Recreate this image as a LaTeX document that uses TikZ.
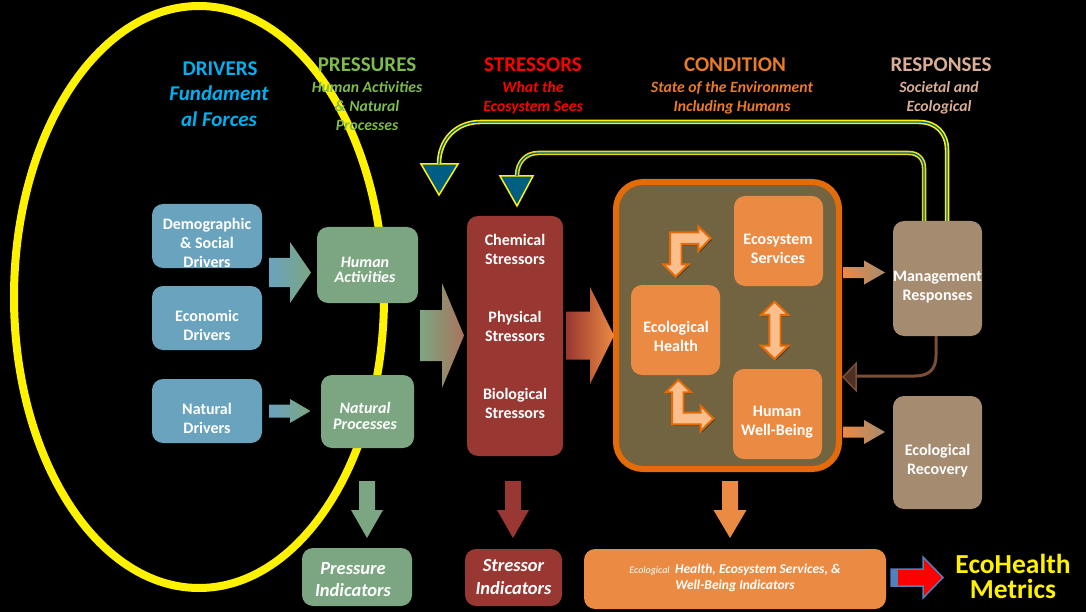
\documentclass[tikz,border=0pt]{standalone}
\usepackage{fontspec}
\setmainfont{Carlito}
\usetikzlibrary{calc,shadows}
\definecolor{cblue}{HTML}{6AA3BE}
\definecolor{cgreen}{HTML}{7CA682}
\definecolor{cred}{HTML}{993732}
\definecolor{corange}{HTML}{EB8A42}
\definecolor{ctan}{HTML}{A58B6F}
\definecolor{cdeep}{HTML}{E36C09}
\definecolor{colive}{HTML}{736441}
\definecolor{cpale}{HTML}{FBBF8E}
\definecolor{cteal}{HTML}{005E85}
\definecolor{hblue}{HTML}{00B0F0}
\definecolor{hgreen}{HTML}{7FBA4C}
\definecolor{horange}{HTML}{E97B26}
\definecolor{hrose}{HTML}{D9AE94}
\definecolor{cmix}{HTML}{A9735C}
\definecolor{cbrown}{HTML}{7B4E38}
\definecolor{cdbrown}{HTML}{4D3022}
\definecolor{cmblue}{HTML}{4F81BD}
\tikzset{
  boxn/.style={rounded corners=11pt,inner sep=0pt},
  lbl/.style={text=white,align=center,inner sep=0pt,font=\fontsize{16}{19}\selectfont\bfseries},
  ital/.style={lbl,font=\fontsize{16}{15.5}\selectfont\bfseries\itshape},
  head/.style={align=center,inner sep=0pt,font=\fontsize{21}{24}\selectfont\bfseries},
  sub/.style={align=center,inner sep=0pt,font=\fontsize{15.7}{19}\selectfont\bfseries\itshape},
  bentar/.style={fill=cpale,draw=cdeep,line width=2pt,line join=miter,
    drop shadow={shadow xshift=1.5pt,shadow yshift=-1.5pt,opacity=.35,fill=black}},
  loopline/.style={draw=yellow,double=cteal,line width=1.6pt,double distance=1.3pt,rounded corners=0pt},
  tri/.style={fill=cteal,draw=yellow,line width=1.5pt,line join=miter}
}
% \boxt{name}{fill}{x0}{y0}{x1}{y1}
\newcommand{\boxt}[6]{%
  \pgfmathsetmacro{\bw}{#5-#3}\pgfmathsetmacro{\bh}{#6-#4}%
  \pgfmathsetmacro{\bx}{(#3+#5)/2}\pgfmathsetmacro{\by}{(#4+#6)/2}%
  \node[boxn,fill=#2,minimum width=\bw pt,minimum height=\bh pt] (#1) at (\bx,\by) {};}
% \harr{name}{x}{yc}{len}{headstart}{shafthalf}{headhalf}{style}
\newcommand{\harr}[8]{%
  \coordinate (#1) at (#2,#3);
  \path[#8,shift={(#1)}] (0,-#6) -- (#5,-#6) -- (#5,-#7) -- (#4,0) -- (#5,#7) -- (#5,#6) -- (0,#6) -- cycle;}
% \darr{name}{xc}{y}{len}{headstart}{shafthalf}{headhalf}{fill}
\newcommand{\darr}[8]{%
  \coordinate (#1) at (#2,#3);
  \path[fill=#8,shift={(#1)}] (-#6,0) -- (-#6,#5) -- (-#7,#5) -- (0,#4) -- (#7,#5) -- (#6,#5) -- (#6,0) -- cycle;}
\begin{document}
\begin{tikzpicture}[x=1pt,y=-1pt]
\useasboundingbox[fill=black] (0,0) rectangle (1086,612);
% big ellipse
\draw[yellow,line width=8pt] (199,297) ellipse [x radius=185,y radius=291];
% headers
\node[head,text=hblue] (hdrv) at (220,69) {DRIVERS};
\node[align=center,inner sep=0pt,text=hblue,font=\fontsize{21}{26}\selectfont\bfseries\itshape] (sdrv) at (219,106) {Fundament\\al Forces};
\node[head,text=hgreen] (hprs) at (367,65) {PRESSURES};
\node[sub,text=hgreen] (sprs) at (367,106) {Human Activities\\\& Natural\\Processes};
\node[head,text=red] (hstr) at (533,65) {STRESSORS};
\node[sub,text=red] (sstr) at (533,98) {What the\\Ecosystem Sees};
\node[head,text=horange] (hcon) at (735,65) {CONDITION};
\node[sub,text=horange] (scon) at (732,98) {State of the Environment\\Including Humans};
\node[head,text=hrose] (hres) at (941,65) {RESPONSES};
\node[sub,text=hrose] (sres) at (939,98) {Societal and\\Ecological};
% driver boxes
\boxt{dem}{cblue}{152}{204}{262}{268}
\boxt{eco}{cblue}{152}{286}{262}{350}
\boxt{nat}{cblue}{152}{379}{262}{443}
\node[lbl] (demt) at (207,243) {Demographic\\\& Social\\Drivers};
\node[lbl] (ecot) at (207,325) {Economic\\Drivers};
\node[lbl] (natt) at (207,418.5) {Natural\\Drivers};
% pressure boxes
\boxt{hum}{cgreen}{317}{227}{418}{303}
\boxt{npr}{cgreen}{321}{375}{414}{448}
\node[ital] (humt) at (365,270) {Human\\Activities};
\node[ital] (nprt) at (365,416) {Natural\\Processes};
% stressor box
\boxt{str}{cred}{467}{216}{563}{456}
\node[lbl] (strt1) at (515,249.5) {Chemical\\Stressors};
\node[lbl] (strt2) at (515,326.5) {Physical\\Stressors};
\node[lbl] (strt3) at (515,403.5) {Biological\\Stressors};
% condition
\draw[fill=colive,draw=cdeep,line width=6pt,rounded corners=27pt] (616,182) rectangle (839,469);
\coordinate (cond) at (727.5,325.5);
\boxt{ess}{corange}{734}{196}{823}{286}
\boxt{ehl}{corange}{631}{285}{720}{375}
\boxt{hwb}{corange}{733}{369}{822}{459}
\node[lbl] (esst) at (778,248.5) {Ecosystem\\Services};
\node[lbl] (ehlt) at (676,336.5) {Ecological\\Health};
\node[lbl] (hwbt) at (777,422) {Human\\Well-Being};
\begin{scope}[shift={(610,175)},x=0.3333pt,y=-0.3333pt]
\path[bentar] (197,305) -- (160,268) -- (180,268) -- (180,172) -- (265,172) -- (265,155) -- (302,190) -- (265,228) -- (265,207) -- (215,207) -- (215,268) -- (235,268) -- cycle;
\path[bentar] (205,615) -- (243,652) -- (221,652) -- (221,713) -- (272,713) -- (272,693) -- (310,731) -- (272,768) -- (272,748) -- (186,748) -- (186,652) -- (168,652) -- cycle;
\path[bentar] (494,380) -- (535,420) -- (512,420) -- (512,512) -- (535,512) -- (494,552) -- (453,512) -- (478,512) -- (478,420) -- (453,420) -- cycle;
\end{scope}
% response boxes
\boxt{mgt}{ctan}{893}{221}{982}{336}
\boxt{rec}{ctan}{893}{396}{982}{509}
\node[lbl] (mgtt) at (937.5,287) {Management\\Responses};
\node[lbl] (rect) at (937.5,460.5) {Ecological\\Recovery};
% block arrows
\harr{a1}{269}{272.5}{42}{21}{14.5}{30.5}{left color=cblue,right color=cgreen}
\harr{a2}{269}{411}{41.5}{21}{6.5}{12}{left color=cblue,right color=cgreen}
\harr{a3}{420}{335.5}{44}{22}{25.5}{52.5}{left color=cgreen,right color=cmix}
\harr{a4}{566}{335.5}{48}{24}{24}{48.5}{left color=cred,right color=corange}
\harr{a5}{843}{272.5}{42}{21}{5.5}{12}{left color=corange,right color=ctan}
\harr{a6}{843}{432}{42}{21}{5.5}{12}{left color=corange,right color=ctan}
% feedback connectors
\coordinate (tipa) at (439,195);
\coordinate (tipb) at (517,206);
\path[tri] (421,164) -- (458,164) -- (tipa) -- cycle; \coordinate (basea) at (439,164);
\path[tri] (500,176) -- (533,176) -- (tipb) -- cycle; \coordinate (baseb) at (517,176);
\coordinate (mga) at ($(mgt.north)+(9.5,0)$);
\coordinate (mgb) at ($(mgt.north)+(-13.5,0)$);
\draw[loopline] (mga) -- (947,150) .. controls (947,133) and (936,122) .. (919,122) -- (480,122) .. controls (456,122) and (439,140) .. (basea);
\draw[loopline,draw=yellow!90!black] (mgb) -- (924,168) .. controls (924,159) and (918,153) .. (909,153) -- (538,153) .. controls (526,153) and (517,162) .. (baseb);
% management feedback
\coordinate (tipc) at (843,377);
\coordinate (mgs) at ($(mgt.south)+(-1.5,0)$);
\draw[draw=cbrown,line width=3pt] (mgs) -- (936,356) .. controls (936,369) and (929,376) .. (915,376) -- (855,376);
\path[fill=cdbrown,draw=cbrown,line width=1.5pt] (tipc) -- (856,363.5) -- (856,390.5) -- cycle;
% down arrows
\darr{d1}{367}{481}{57}{29}{8}{16}{cgreen}
\darr{d2}{513}{481}{57}{29}{8}{16}{cred}
\darr{d3}{730}{481}{57}{29}{8}{16.5}{corange}
% indicators
\boxt{pin}{cgreen}{302}{548}{412}{606}
\boxt{sin}{cred}{465}{549}{562}{606}
\boxt{ein}{corange}{584}{549}{886}{609}
\node[lbl,font=\fontsize{18.5}{22}\selectfont\bfseries\itshape] (pint) at (353,580) {Pressure\\Indicators};
\node[lbl,font=\fontsize{18.5}{23}\selectfont\bfseries\itshape] (sint) at (513.5,577) {Stressor\\Indicators};
\node[lbl,font=\fontsize{13.5}{16}\selectfont\bfseries\itshape] (eint) at (735,578) {{\fontsize{10}{16}\selectfont\mdseries Ecological} \,Health, Ecosystem Services, \&\\Well-Being Indicators};
% metrics arrow
\coordinate (m) at (891,577.5);
\path[fill=red,draw=cmblue,line width=1.5pt,line join=miter,shift={(m)}] (0,-8.5) -- (32,-8.5) -- (32,-20.5) -- (52,0) -- (32,20.5) -- (32,8.5) -- (0,8.5) -- cycle;
\path[fill=cmblue] (891,569) rectangle (897.5,586);
\node[inner sep=0pt,align=center,text=yellow,font=\fontsize{27.5}{25}\selectfont\bfseries] (metr) at (1013,576) {EcoHealth\\Metrics};
\end{tikzpicture}
\end{document}
